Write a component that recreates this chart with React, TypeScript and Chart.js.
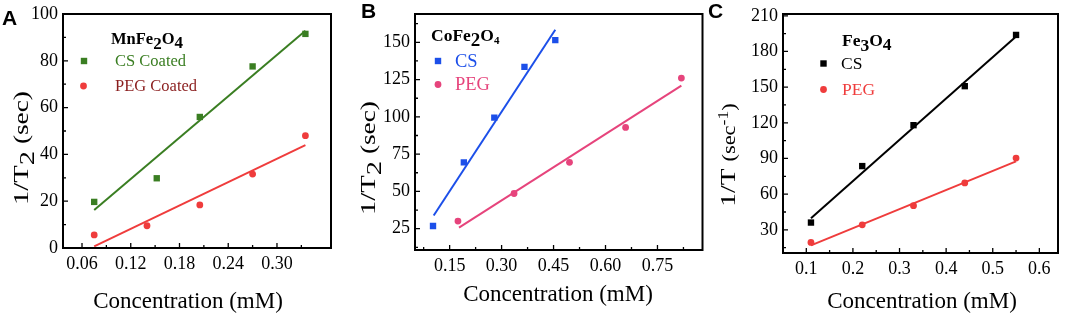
import React, { useEffect, useRef } from 'react';
import { Chart, registerables } from 'chart.js';
Chart.register(...registerables);

const SERIF = '"Liberation Serif", "Times New Roman", Times, serif';
const SANS = '"Liberation Sans", Arial, sans-serif';

// ---------- Panel A : MnFe2O4 ----------
const aCsX = [0.075, 0.152, 0.205, 0.27, 0.335];
const aCsY = [19.7, 29.8, 56, 77.6, 91.5];
const aPegX = [0.075, 0.14, 0.205, 0.27, 0.335];
const aPegY = [5.6, 9.5, 18.4, 31.6, 48];
const aCsFitX = [0.075, 0.335];
const aCsFitY = [16.2, 92.8];
const aPegFitX = [0.075, 0.335];
const aPegFitY = [0.7, 44];
const aXTicks = [0.06, 0.12, 0.18, 0.24, 0.3];
const aXMinor = [0.09, 0.15, 0.21, 0.27, 0.33];
const aYTicks = [0, 20, 40, 60, 80, 100];
const aYMinor = [10, 30, 50, 70, 90];

// ---------- Panel B : CoFe2O4 ----------
const bCsX = [0.102, 0.191, 0.279, 0.366, 0.455];
const bCsY = [26.8, 69.5, 99.5, 133.5, 151.5];
const bPegX = [0.174, 0.336, 0.496, 0.658, 0.819];
const bPegY = [30.1, 48.6, 69.5, 92.9, 126];
const bCsFitX = [0.104, 0.455];
const bCsFitY = [33.8, 158.4];
const bPegFitX = [0.177, 0.819];
const bPegFitY = [25.7, 120.9];
const bXTicks = [0.15, 0.3, 0.45, 0.6, 0.75];
const bXMinor = [0.075, 0.225, 0.375, 0.525, 0.675, 0.825];
const bYTicks = [25, 50, 75, 100, 125, 150];
const bYMinor = [12.5, 37.5, 62.5, 87.5, 112.5, 137.5, 162.5];

// ---------- Panel C : Fe3O4 ----------
const cX = [0.11, 0.22, 0.33, 0.44, 0.55];
const cCsY = [36.1, 83.6, 118, 150.8, 193.9];
const cPegY = [19.4, 34.2, 50.3, 69.4, 90.3];
const cCsFitX = [0.11, 0.55];
const cCsFitY = [39.7, 192.5];
const cPegFitX = [0.11, 0.55];
const cPegFitY = [16.9, 87.5];
const cXTicks = [0.1, 0.2, 0.3, 0.4, 0.5, 0.6];
const cXMinor = [0.15, 0.25, 0.35, 0.45, 0.55];
const cYTicks = [30, 60, 90, 120, 150, 180, 210];
const cYMinor = [15, 45, 75, 105, 135, 165, 195];

const xTitle = 'Concentration (mM)';

type Seg = { t: string; size: number; bold?: boolean; dy?: number; color?: string };
type Series = { xs: number[]; ys: number[]; color: string; style: 'rect' | 'circle' };
type Fit = { xs: number[]; ys: number[]; color: string };
type LegendItem = { style: 'rect' | 'circle'; color: string; text: string; textColor: string; mx: number; my: number; tx: number; size: number };
type PanelCfg = {
  left: number; width: number;
  area: { l: number; r: number; t: number; b: number };
  xMin: number; xMax: number; yMin: number; yMax: number;
  xMajor: number[]; xMinor: number[]; yMajor: number[]; yMinor: number[]; xDigits: number;
  series: Series[]; fits: Fit[];
  letter: string; letterX: number; letterY: number;
  xTitleCX: number; xTitleY: number;
  yTitle: Seg[]; yTitleX: number; yTitleCY: number; yStretch: number;
  legTitle: Seg[]; legTitleX: number; legTitleY: number;
  legend: LegendItem[];
};

const GREEN = '#3a7e22';
const RED = '#ef3c3c';
const DARKRED = '#8a1d1d';
const BLUE = '#1c4fe9';
const PINK = '#e6447c';
const BLACK = '#000000';

const panels: PanelCfg[] = [
  {
    left: 0, width: 350,
    area: { l: 63, r: 331, t: 10, b: 248 },
    xMin: 0.0366, xMax: 0.3665, yMin: 0, yMax: 100,
    xMajor: aXTicks, xMinor: aXMinor, yMajor: aYTicks, yMinor: aYMinor, xDigits: 2,
    series: [
      { xs: aCsX, ys: aCsY, color: GREEN, style: 'rect' },
      { xs: aPegX, ys: aPegY, color: RED, style: 'circle' },
    ],
    fits: [
      { xs: aCsFitX, ys: aCsFitY, color: GREEN },
      { xs: aPegFitX, ys: aPegFitY, color: RED },
    ],
    letter: 'A', letterX: 2, letterY: 25,
    xTitleCX: 188, xTitleY: 308,
    yTitle: [{ t: '1/T', size: 22 }, { t: '2', size: 22, dy: 6 }, { t: ' (sec)', size: 21 }],
    yTitleX: 28, yTitleCY: 148, yStretch: 1.3,
    legTitle: [{ t: 'MnFe', size: 16.5, bold: true }, { t: '2', size: 17, bold: true, dy: 5 }, { t: 'O', size: 16.5, bold: true }, { t: '4', size: 17, bold: true, dy: 4 }],
    legTitleX: 111, legTitleY: 44,
    legend: [
      { style: 'rect', color: GREEN, text: 'CS Coated', textColor: GREEN, mx: 84, my: 61, tx: 115, size: 16.5 },
      { style: 'circle', color: RED, text: 'PEG Coated', textColor: DARKRED, mx: 83.5, my: 86, tx: 115, size: 16.5 },
    ],
  },
  {
    left: 350, width: 357,
    area: { l: 415, r: 704, t: 10, b: 250 },
    xMin: 0.05, xMax: 0.88, yMin: 10.7, yMax: 169,
    xMajor: bXTicks, xMinor: bXMinor, yMajor: bYTicks, yMinor: bYMinor, xDigits: 2,
    series: [
      { xs: bCsX, ys: bCsY, color: BLUE, style: 'rect' },
      { xs: bPegX, ys: bPegY, color: PINK, style: 'circle' },
    ],
    fits: [
      { xs: bCsFitX, ys: bCsFitY, color: BLUE },
      { xs: bPegFitX, ys: bPegFitY, color: PINK },
    ],
    letter: 'B', letterX: 361, letterY: 18,
    xTitleCX: 558, xTitleY: 301,
    yTitle: [{ t: '1/T', size: 22 }, { t: '2', size: 22, dy: 6 }, { t: ' (sec)', size: 21 }],
    yTitleX: 375, yTitleCY: 158, yStretch: 1.3,
    legTitle: [{ t: 'CoFe', size: 17.5, bold: true }, { t: '2', size: 19, bold: true, dy: 5 }, { t: 'O', size: 17.5, bold: true }, { t: '4', size: 11, bold: true, dy: 3 }],
    legTitleX: 431, legTitleY: 41,
    legend: [
      { style: 'rect', color: BLUE, text: 'CS', textColor: BLUE, mx: 438, my: 61, tx: 455, size: 18.5 },
      { style: 'circle', color: PINK, text: 'PEG', textColor: PINK, mx: 438, my: 84.5, tx: 455, size: 18.5 },
    ],
  },
  {
    left: 707, width: 358,
    area: { l: 783, r: 1058, t: 12, b: 253 },
    xMin: 0.05, xMax: 0.64, yMin: 10.5, yMax: 211.5,
    xMajor: cXTicks, xMinor: cXMinor, yMajor: cYTicks, yMinor: cYMinor, xDigits: 1,
    series: [
      { xs: cX, ys: cCsY, color: BLACK, style: 'rect' },
      { xs: cX, ys: cPegY, color: RED, style: 'circle' },
    ],
    fits: [
      { xs: cCsFitX, ys: cCsFitY, color: BLACK },
      { xs: cPegFitX, ys: cPegFitY, color: RED },
    ],
    letter: 'C', letterX: 708, letterY: 18,
    xTitleCX: 922, xTitleY: 308,
    yTitle: [{ t: '1/T ', size: 22 }, { t: '(sec', size: 18 }, { t: '-1', size: 14, dy: -7 }, { t: ')', size: 18 }],
    yTitleX: 735, yTitleCY: 155, yStretch: 1.25,
    legTitle: [{ t: 'Fe', size: 17.5, bold: true }, { t: '3', size: 17.5, bold: true, dy: 5 }, { t: 'O', size: 17.5, bold: true }, { t: '4', size: 17.5, bold: true, dy: 4 }],
    legTitleX: 842, legTitleY: 46,
    legend: [
      { style: 'rect', color: BLACK, text: 'CS', textColor: BLACK, mx: 823.5, my: 63.5, tx: 841, size: 17.5 },
      { style: 'circle', color: RED, text: 'PEG', textColor: RED, mx: 823.5, my: 89.5, tx: 842, size: 17.5 },
    ],
  },
];

function fontOf(s: Seg) {
  return `${s.bold ? 'bold ' : ''}${s.size}px ${SERIF}`;
}

function drawRich(ctx: CanvasRenderingContext2D, segs: Seg[], x: number, y: number, center: boolean) {
  let w = 0;
  for (const s of segs) { ctx.font = fontOf(s); w += ctx.measureText(s.t).width; }
  let cx = center ? x - w / 2 : x;
  for (const s of segs) {
    ctx.font = fontOf(s);
    ctx.fillStyle = s.color || '#000';
    ctx.fillText(s.t, cx, y + (s.dy || 0));
    cx += ctx.measureText(s.t).width;
  }
}

function drawMarker(ctx: CanvasRenderingContext2D, style: 'rect' | 'circle', color: string, x: number, y: number) {
  ctx.fillStyle = color;
  if (style === 'rect') {
    ctx.fillRect(x - 3.2, y - 3.2, 6.4, 6.4);
  } else {
    ctx.beginPath();
    ctx.arc(x, y, 3.4, 0, Math.PI * 2);
    ctx.fill();
  }
}

function makeDecor(cfg: PanelCfg) {
  return {
    id: 'decor' + cfg.letter,
    afterDatasetsDraw(chart: any) {
      const { ctx, chartArea: ca, scales } = chart;
      const ox = cfg.left;
      const xs = scales.x, ys = scales.y;
      ctx.save();
      ctx.strokeStyle = '#000';
      ctx.lineWidth = 1.3;
      ctx.beginPath();
      const vt = (vals: number[], len: number) => vals.forEach((v) => {
        if (v < cfg.xMin || v > cfg.xMax) return;
        const p = xs.getPixelForValue(v);
        ctx.moveTo(p, ca.bottom); ctx.lineTo(p, ca.bottom - len);
      });
      const ht = (vals: number[], len: number) => vals.forEach((v) => {
        if (v < cfg.yMin || v > cfg.yMax) return;
        const p = ys.getPixelForValue(v);
        ctx.moveTo(ca.left, p); ctx.lineTo(ca.left + len, p);
      });
      vt(cfg.xMajor, 5); vt(cfg.xMinor, 3);
      ht(cfg.yMajor, 5); ht(cfg.yMinor, 3);
      ctx.stroke();
      ctx.lineWidth = 2;
      ctx.strokeRect(ca.left, ca.top, ca.right - ca.left, ca.bottom - ca.top);

      ctx.textBaseline = 'alphabetic';
      ctx.textAlign = 'left';
      ctx.fillStyle = '#000';
      ctx.font = `bold 21px ${SANS}`;
      ctx.fillText(cfg.letter, cfg.letterX - ox, cfg.letterY);
      drawRich(ctx, [{ t: xTitle, size: 23 }], cfg.xTitleCX - ox, cfg.xTitleY, true);
      ctx.save();
      ctx.translate(cfg.yTitleX - ox, cfg.yTitleCY);
      ctx.rotate(-Math.PI / 2);
      ctx.scale(cfg.yStretch, 1);
      drawRich(ctx, cfg.yTitle, 0, 0, true);
      ctx.restore();
      drawRich(ctx, cfg.legTitle, cfg.legTitleX - ox, cfg.legTitleY, false);
      ctx.textBaseline = 'middle';
      for (const it of cfg.legend) {
        drawMarker(ctx, it.style, it.color, it.mx - ox, it.my);
        ctx.font = `${it.size}px ${SERIF}`;
        ctx.fillStyle = it.textColor;
        ctx.fillText(it.text, it.tx - ox, it.my + 1);
      }
      ctx.restore();
    },
  };
}

function Panel({ cfg }: { cfg: PanelCfg }) {
  const ref = useRef<HTMLCanvasElement>(null);
  useEffect(() => {
    const canvas = ref.current!;
    const datasets: any[] = [];
    cfg.fits.forEach((f) => {
      datasets.push({
        data: f.xs.map((x, i) => ({ x, y: f.ys[i] })),
        showLine: true, borderColor: f.color, borderWidth: 2, pointRadius: 0, fill: false,
      });
    });
    cfg.series.forEach((s) => {
      datasets.push({
        data: s.xs.map((x, i) => ({ x, y: s.ys[i] })),
        showLine: false, pointStyle: s.style, pointRadius: s.style === 'rect' ? 4.5 : 3.4,
        backgroundColor: s.color, borderColor: s.color, borderWidth: 0,
      });
    });
    const tickFont = { family: SERIF, size: 18, lineHeight: 1 };
    const chart = new Chart(canvas, {
      type: 'scatter',
      data: { datasets },
      options: {
        responsive: false,
        animation: false,
        devicePixelRatio: 1,
        layout: { padding: { left: 0, top: cfg.area.t, right: cfg.left + cfg.width - cfg.area.r, bottom: 0 } },
        plugins: { legend: { display: false }, tooltip: { enabled: false } },
        scales: {
          x: {
            type: 'linear', min: cfg.xMin, max: cfg.xMax,
            grid: { display: false, drawTicks: false },
            border: { display: false },
            afterFit: (s: any) => { s.height = 319 - cfg.area.b; },
            afterBuildTicks: (s: any) => { s.ticks = cfg.xMajor.map((v) => ({ value: v })); },
            ticks: {
              autoSkip: false, maxRotation: 0, padding: 7, color: '#000', font: tickFont,
              callback: (v: any) => Number(v).toFixed(cfg.xDigits),
            },
          },
          y: {
            type: 'linear', min: cfg.yMin, max: cfg.yMax,
            grid: { display: false, drawTicks: false },
            border: { display: false },
            afterFit: (s: any) => { s.width = cfg.area.l - cfg.left; },
            afterBuildTicks: (s: any) => { s.ticks = cfg.yMajor.map((v) => ({ value: v })); },
            ticks: {
              autoSkip: false, padding: 5, color: '#000', font: tickFont,
              callback: (v: any) => String(Math.round(Number(v))),
            },
          },
        },
      } as any,
      plugins: [makeDecor(cfg)],
    });
    return () => chart.destroy();
  }, [cfg]);
  return (
    <canvas
      ref={ref}
      width={cfg.width}
      height={319}
      style={{ position: 'absolute', left: cfg.left, top: 0, width: cfg.width, height: 319 }}
    />
  );
}

export default function App() {
  return (
    <div style={{ position: 'fixed', left: 0, top: 0, width: 1065, height: 319, background: '#fff', overflow: 'hidden' }}>
      {panels.map((p) => (
        <Panel key={p.letter} cfg={p} />
      ))}
    </div>
  );
}
